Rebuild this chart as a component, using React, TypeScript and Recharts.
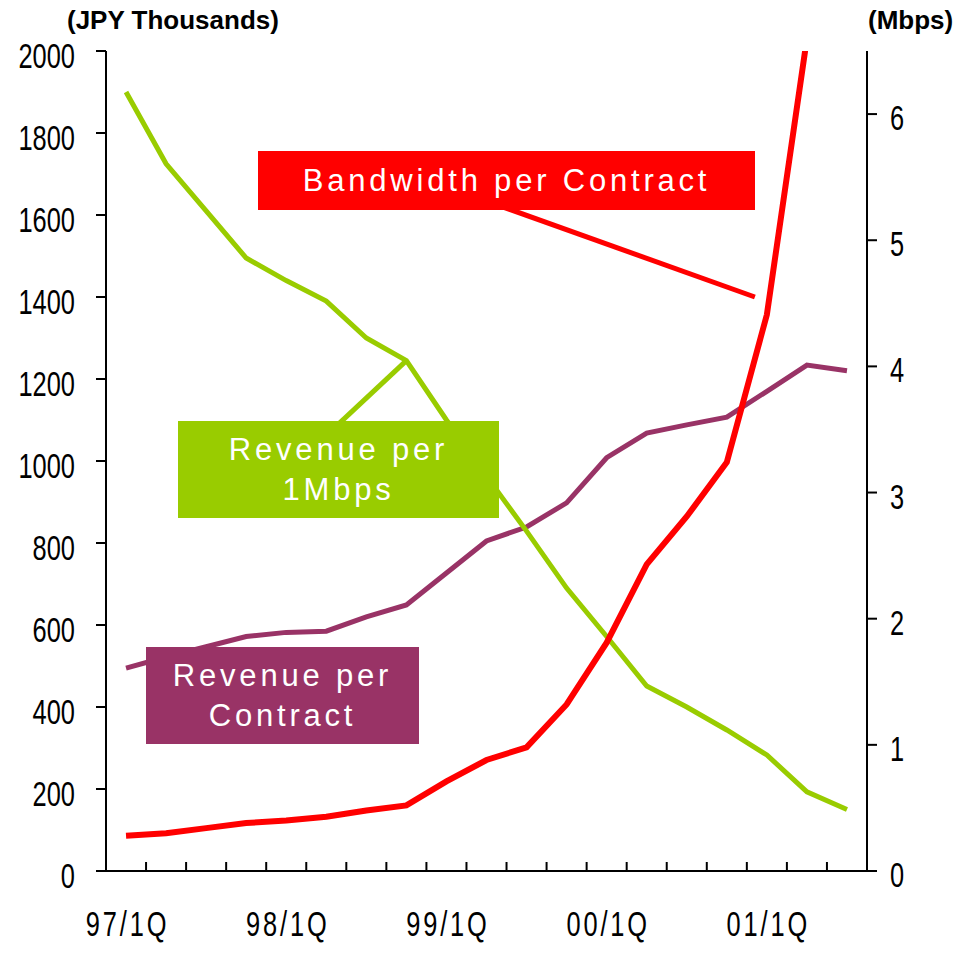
import React from 'react';
import { LineChart, Line, XAxis, YAxis, ReferenceLine } from 'recharts';

// quarterly data, 97/1Q .. 01/3Q
const quarters = [
  '97/1Q', '97/2Q', '97/3Q', '97/4Q',
  '98/1Q', '98/2Q', '98/3Q', '98/4Q',
  '99/1Q', '99/2Q', '99/3Q', '99/4Q',
  '00/1Q', '00/2Q', '00/3Q', '00/4Q',
  '01/1Q', '01/2Q', '01/3Q'
];
// JPY thousands
const revenuePerMbps = [1900, 1725, 1610, 1495, 1440, 1390, 1300, 1245, 1100, 963, 829, 690, 572, 451, 400, 344, 283, 193, 150];
const revenuePerContract = [495, 522, 547, 572, 582, 585, 620, 649, 727, 805, 839, 898, 1008, 1068, 1088, 1107, 1170, 1234, 1220];
// Mbps
const bandwidthPerContract = [0.28, 0.3, 0.34, 0.38, 0.4, 0.43, 0.48, 0.52, 0.71, 0.88, 0.98, 1.32, 1.81, 2.43, 2.81, 3.24, 4.41, 6.6, null];

const labelTicks = [0, 4, 8, 12, 16];
const leftTicks = [0, 200, 400, 600, 800, 1000, 1200, 1400, 1600, 1800, 2000];
const rightTicks = [0, 1, 2, 3, 4, 5, 6];

const GREEN = '#99CC00';
const PURPLE = '#993366';
const RED = '#FF0000';
const SANS = "'Liberation Sans', Arial, sans-serif";

const data = quarters.map((q, i) => ({
  i,
  q,
  mbps: revenuePerMbps[i],
  contract: revenuePerContract[i],
  bandwidth: bandwidthPerContract[i]
}));

// boundaries between quarters, for the inward tick marks
const boundaries = [...quarters.map((_, i) => i - 0.5), quarters.length - 0.5];

// narrow, tall digits like the original Arial Narrow labels
const narrow = (x: number, y: number) => `translate(${x},${y}) scale(0.82,1.12)`;

const LeftTick = (props: any) => {
  const { x, y, payload } = props;
  return (
    <text transform={narrow(x, y + 17)} textAnchor="end" fontFamily={SANS} fontSize={31} fill="#000">
      {payload.value}
    </text>
  );
};

const RightTick = (props: any) => {
  const { x, y, payload } = props;
  return (
    <text transform={narrow(x, y + 16)} textAnchor="start" fontFamily={SANS} fontSize={31} fill="#000">
      {payload.value}
    </text>
  );
};

const QuarterTick = (props: any) => {
  const { x, y, payload } = props;
  return (
    <text transform={narrow(x + 1.5, y)} textAnchor="middle" fontFamily={SANS} fontSize={31}
      letterSpacing={3.5} fill="#000">
      {quarters[payload.value]}
    </text>
  );
};

// tick marks only, no label
const NoLabel = () => <g />;

const boxText: React.CSSProperties = {
  position: 'absolute',
  display: 'flex',
  flexDirection: 'column',
  alignItems: 'center',
  justifyContent: 'center',
  color: '#fff',
  fontFamily: SANS,
  fontSize: 31,
  letterSpacing: 3.8,
  lineHeight: '40px',
  textAlign: 'center'
};

export default function App() {
  return (
    <div style={{ position: 'absolute', left: 0, top: 0, width: 967, height: 955, background: '#fff' }}>
      <LineChart width={967} height={955} data={data}
        margin={{ top: 51, right: 20, bottom: 23, left: 26 }}>
        <XAxis xAxisId="a" type="number" dataKey="i" domain={[-0.5, 18.5]} ticks={boundaries}
          height={1} tick={<NoLabel />} tickSize={-9} interval={0}
          axisLine={{ stroke: '#000', strokeWidth: 2 }} tickLine={{ stroke: '#000', strokeWidth: 2 }} />
        <XAxis xAxisId="b" type="number" dataKey="i" domain={[-0.5, 18.5]} ticks={labelTicks}
          height={60} axisLine={false} tickLine={false} tickSize={0} tickMargin={64}
          tick={<QuarterTick />} interval={0} />
        <YAxis yAxisId="left" orientation="left" domain={[0, 2000]} ticks={leftTicks} width={80}
          tickSize={10} tickMargin={21} interval={0}
          axisLine={{ stroke: '#000', strokeWidth: 2 }} tickLine={{ stroke: '#000', strokeWidth: 2 }}
          tick={<LeftTick />} />
        <YAxis yAxisId="right" orientation="right" domain={[0, 6.5]} ticks={rightTicks} width={80}
          allowDataOverflow tickSize={10} tickMargin={13} interval={0}
          axisLine={{ stroke: '#000', strokeWidth: 2 }} tickLine={{ stroke: '#000', strokeWidth: 2 }}
          tick={<RightTick />} />
        <ReferenceLine xAxisId="a" yAxisId="left" segment={[{ x: 9.4, y: 1620 }, { x: 15.7, y: 1400 }]}
          stroke={RED} strokeWidth={5} ifOverflow="visible" />
        <ReferenceLine xAxisId="a" yAxisId="left" segment={[{ x: 5.25, y: 1085 }, { x: 7, y: 1245 }]}
          stroke={GREEN} strokeWidth={5} ifOverflow="visible" />
        <Line xAxisId="a" yAxisId="left" dataKey="contract" stroke={PURPLE} strokeWidth={5}
          dot={false} activeDot={false} isAnimationActive={false} />
        <Line xAxisId="a" yAxisId="left" dataKey="mbps" stroke={GREEN} strokeWidth={5}
          dot={false} activeDot={false} isAnimationActive={false} />
        <Line xAxisId="a" yAxisId="right" dataKey="bandwidth" stroke={RED} strokeWidth={6}
          dot={false} activeDot={false} isAnimationActive={false} />
      </LineChart>

      <div style={{ position: 'absolute', left: 67, top: 7, fontFamily: SANS, fontWeight: 'bold', fontSize: 26, lineHeight: '26px', color: '#000' }}>
        (JPY Thousands)
      </div>
      <div style={{ position: 'absolute', left: 868, top: 7, fontFamily: SANS, fontWeight: 'bold', fontSize: 26, lineHeight: '26px', color: '#000' }}>
        (Mbps)
      </div>

      <div style={{ ...boxText, left: 258, top: 151, width: 497, height: 59, background: RED }}>
        <span>Bandwidth per Contract</span>
      </div>
      <div style={{ ...boxText, left: 178, top: 421, width: 321, height: 97, background: GREEN }}>
        <span>Revenue per</span>
        <span>1Mbps</span>
      </div>
      <div style={{ ...boxText, left: 146, top: 647, width: 273, height: 97, background: PURPLE }}>
        <span>Revenue per</span>
        <span>Contract</span>
      </div>
    </div>
  );
}
